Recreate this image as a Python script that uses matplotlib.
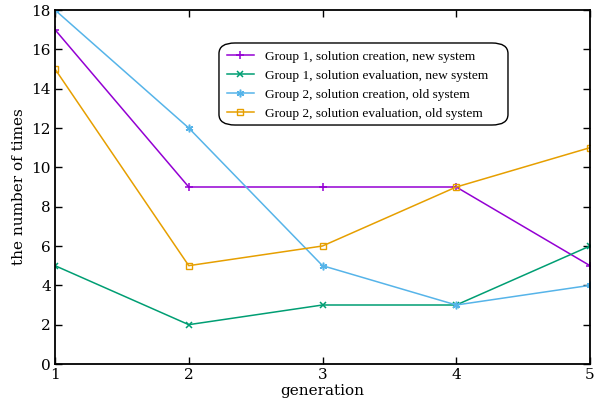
import matplotlib
matplotlib.use("Agg")
import matplotlib.pyplot as plt
from matplotlib.patches import FancyBboxPatch

# data
generation = [1, 2, 3, 4, 5]
g1_creation_new = [17, 9, 9, 9, 5]
g1_eval_new = [5, 2, 3, 3, 6]
g2_creation_old = [18, 12, 5, 3, 4]
g2_eval_old = [15, 5, 6, 9, 11]

labels = [
    "Group 1, solution creation, new system",
    "Group 1, solution evaluation, new system",
    "Group 2, solution creation, old system",
    "Group 2, solution evaluation, old system",
]

plt.rcParams['font.family'] = ['DejaVu Serif']
plt.rcParams['mathtext.fontset'] = 'dejavuserif'

fig = plt.figure(figsize=(6.06, 4.03), dpi=100)
ax = fig.add_axes([55 / 606, 39 / 403, 535 / 606, 354 / 403])

ax.plot(generation, g1_creation_new, color='#9400d3', marker='+', ms=6, mew=1.1, lw=1.1, label=labels[0])
ax.plot(generation, g1_eval_new, color='#009e73', marker='x', ms=4, mew=1.1, lw=1.1, label=labels[1])
ax.plot(generation, g2_creation_old, color='#56b4e9', marker=(6, 2, 0), ms=5.5, mew=1.1, lw=1.1, label=labels[2])
ax.plot(generation, g2_eval_old, color='#e69f00', marker='s', ms=5, mfc='none', mew=1.0, lw=1.1, label=labels[3])

ax.set_xlim(1, 5)
ax.set_ylim(0, 18)
ax.set_xticks(generation)
ax.set_yticks(range(0, 19, 2))
ax.tick_params(direction='in', top=True, right=True, length=5, width=1, labelsize=11, pad=3)
for s in ax.spines.values():
    s.set_linewidth(1.3)

ax.set_xlabel("generation", fontsize=11, labelpad=1)
ax.set_ylabel("the number of times", fontsize=11, labelpad=4)

# rounded key box, gnuplot style
box = FancyBboxPatch((0.3065, 0.6751), 0.8467 - 0.3065, 0.9068 - 0.6751,
                     boxstyle='round,pad=0,rounding_size=0.03',
                     transform=ax.transAxes, fc='white', ec='black', lw=1.0, zorder=4)
ax.add_patch(box)

leg = ax.legend(loc='upper left', bbox_to_anchor=(0.3215, 0.886),
                prop={'family': 'Liberation Serif', 'size': 9.6},
                frameon=False, handlelength=2.0, borderpad=0,
                labelspacing=0.5, handletextpad=0.85, borderaxespad=0)
leg.set_zorder(5)

fig.savefig("out.png", dpi=100)
